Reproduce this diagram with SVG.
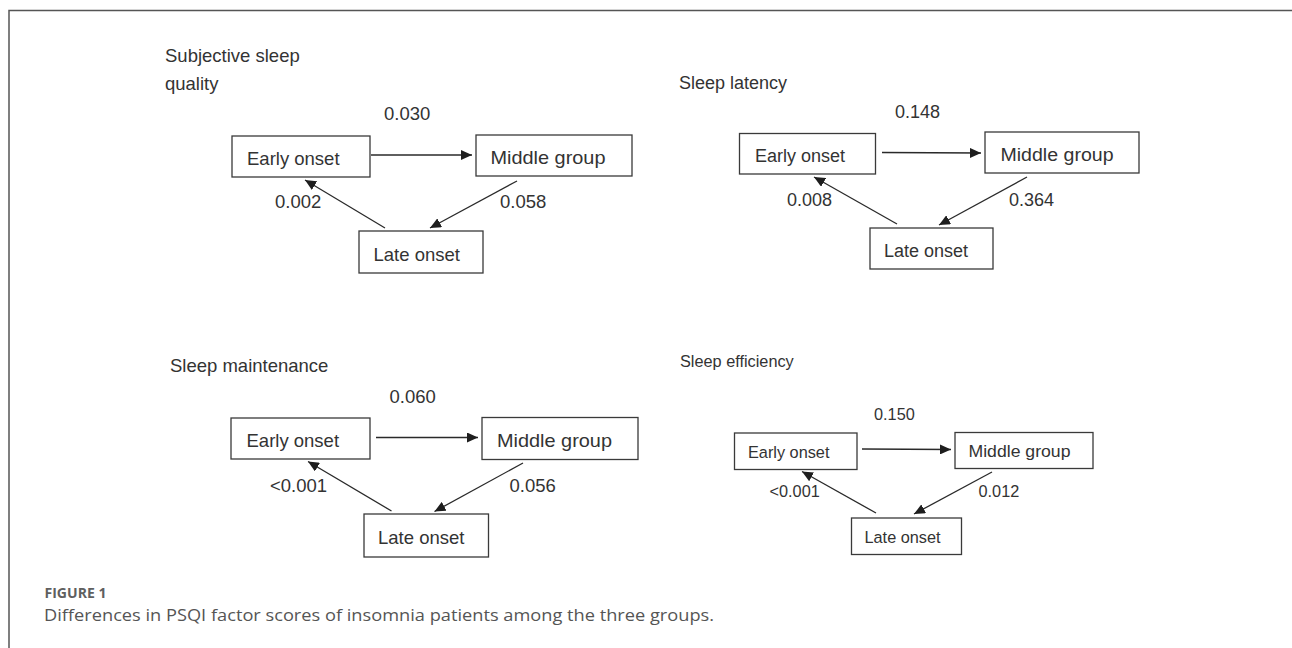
<svg xmlns="http://www.w3.org/2000/svg" width="1292" height="648" viewBox="0 0 1292 648">
<defs>
<marker id="ah" viewBox="0 0 11 10" refX="11" refY="5" markerWidth="11" markerHeight="10" markerUnits="userSpaceOnUse" orient="auto">
<path d="M0,0 L11,5 L0,10 z" fill="#1e1e1e"/>
</marker>
<style>
.t{font-family:"Liberation Sans",Arial,sans-serif;fill:#333}
.a{font-size:18.5px}
.b{font-size:18px}
.d{font-size:16.3px}
.box{fill:#fff;stroke:#3a3a3a;stroke-width:1.3}
.ln{fill:none;stroke:#2a2a2a;stroke-width:1.3;marker-end:url(#ah)}
.cap{font-family:"Open Sans",Lato,sans-serif}
</style>
</defs>
<rect width="1292" height="648" fill="#fff"/>
<path d="M9,648 V10.5 H1292" fill="none" stroke="#555" stroke-width="1.5"/>

<!-- Panel A -->
<g id="panelA-labels" class="t a">
<text x="165" y="62">Subjective sleep</text>
<text x="165" y="90">quality</text>
<text x="384" y="120">0.030</text>
<text x="275" y="208">0.002</text>
<text x="500" y="208">0.058</text>
</g>
<g id="A-early"><rect class="box" x="232" y="136" width="138" height="41"/><text class="t a" x="247" y="165">Early onset</text></g>
<g id="A-middle"><rect class="box" x="476" y="135" width="156" height="41"/><text class="t a" x="490.5" y="164" textLength="115" lengthAdjust="spacingAndGlyphs">Middle group</text></g>
<g id="A-late"><rect class="box" x="359" y="231" width="124" height="42"/><text class="t a" x="373.5" y="261">Late onset</text></g>

<!-- Panel B -->
<g id="panelB-labels" class="t b">
<text x="679" y="89">Sleep latency</text>
<text x="895" y="118">0.148</text>
<text x="787" y="205.5">0.008</text>
<text x="1009" y="205.5">0.364</text>
</g>
<g id="B-early"><rect class="box" x="739.5" y="133.5" width="136" height="40.5"/><text class="t b" x="755" y="161.5">Early onset</text></g>
<g id="B-middle"><rect class="box" x="985" y="132" width="154" height="41"/><text class="t b" x="1000.5" y="160.5" textLength="113" lengthAdjust="spacingAndGlyphs">Middle group</text></g>
<g id="B-late"><rect class="box" x="870" y="228" width="123" height="41"/><text class="t b" x="884" y="256.5">Late onset</text></g>

<!-- Panel C -->
<g id="panelC-labels" class="t a">
<text x="170" y="372">Sleep maintenance</text>
<text x="389.5" y="402.5">0.060</text>
<text x="270" y="491.5">&lt;0.001</text>
<text x="509.5" y="491.5">0.056</text>
</g>
<g id="C-early"><rect class="box" x="231" y="418" width="139" height="41"/><text class="t a" x="246.5" y="447">Early onset</text></g>
<g id="C-middle"><rect class="box" x="482" y="417.5" width="156" height="42"/><text class="t a" x="497" y="446.5" textLength="115" lengthAdjust="spacingAndGlyphs">Middle group</text></g>
<g id="C-late"><rect class="box" x="364" y="514" width="124.5" height="43"/><text class="t a" x="378" y="544">Late onset</text></g>

<!-- Panel D -->
<g id="panelD-labels" class="t d">
<text x="680" y="367">Sleep efficiency</text>
<text x="874" y="420">0.150</text>
<text x="769.5" y="497">&lt;0.001</text>
<text x="978.5" y="497">0.012</text>
</g>
<g id="D-early"><rect class="box" x="734.5" y="433" width="122.5" height="36.5"/><text class="t d" x="748" y="458">Early onset</text></g>
<g id="D-middle"><rect class="box" x="955" y="432.5" width="138" height="36"/><text class="t d" x="968.5" y="457" textLength="102" lengthAdjust="spacingAndGlyphs">Middle group</text></g>
<g id="D-late"><rect class="box" x="851.5" y="518" width="110" height="36.5"/><text class="t d" x="864.5" y="542.5">Late onset</text></g>

<g id="connectors">
<line class="ln" x1="371" y1="155" x2="472" y2="155"/>
<line class="ln" x1="517" y1="181" x2="430" y2="228"/>
<line class="ln" x1="385" y1="228" x2="305" y2="180"/>

<line class="ln" x1="882" y1="152.5" x2="981" y2="153"/>
<line class="ln" x1="1027" y1="177" x2="939" y2="225"/>
<line class="ln" x1="897" y1="224" x2="814" y2="177"/>

<line class="ln" x1="376" y1="437.5" x2="478" y2="437.5"/>
<line class="ln" x1="523" y1="463" x2="434.5" y2="511.5"/>
<line class="ln" x1="391.5" y1="511" x2="308" y2="461.5"/>

<line class="ln" x1="862" y1="449" x2="951" y2="449.5"/>
<line class="ln" x1="992" y1="472" x2="914" y2="514"/>
<line class="ln" x1="876" y1="513" x2="802" y2="471.5"/>
</g>

<g id="caption" class="cap">
<text x="44.5" y="597.5" font-size="13.5" font-weight="700" fill="#5f5f5f" textLength="62" lengthAdjust="spacingAndGlyphs">FIGURE 1</text>
<text x="44" y="621" font-size="17" fill="#555" textLength="670" lengthAdjust="spacingAndGlyphs">Differences in PSQI factor scores of insomnia patients among the three groups.</text>
</g>
</svg>
